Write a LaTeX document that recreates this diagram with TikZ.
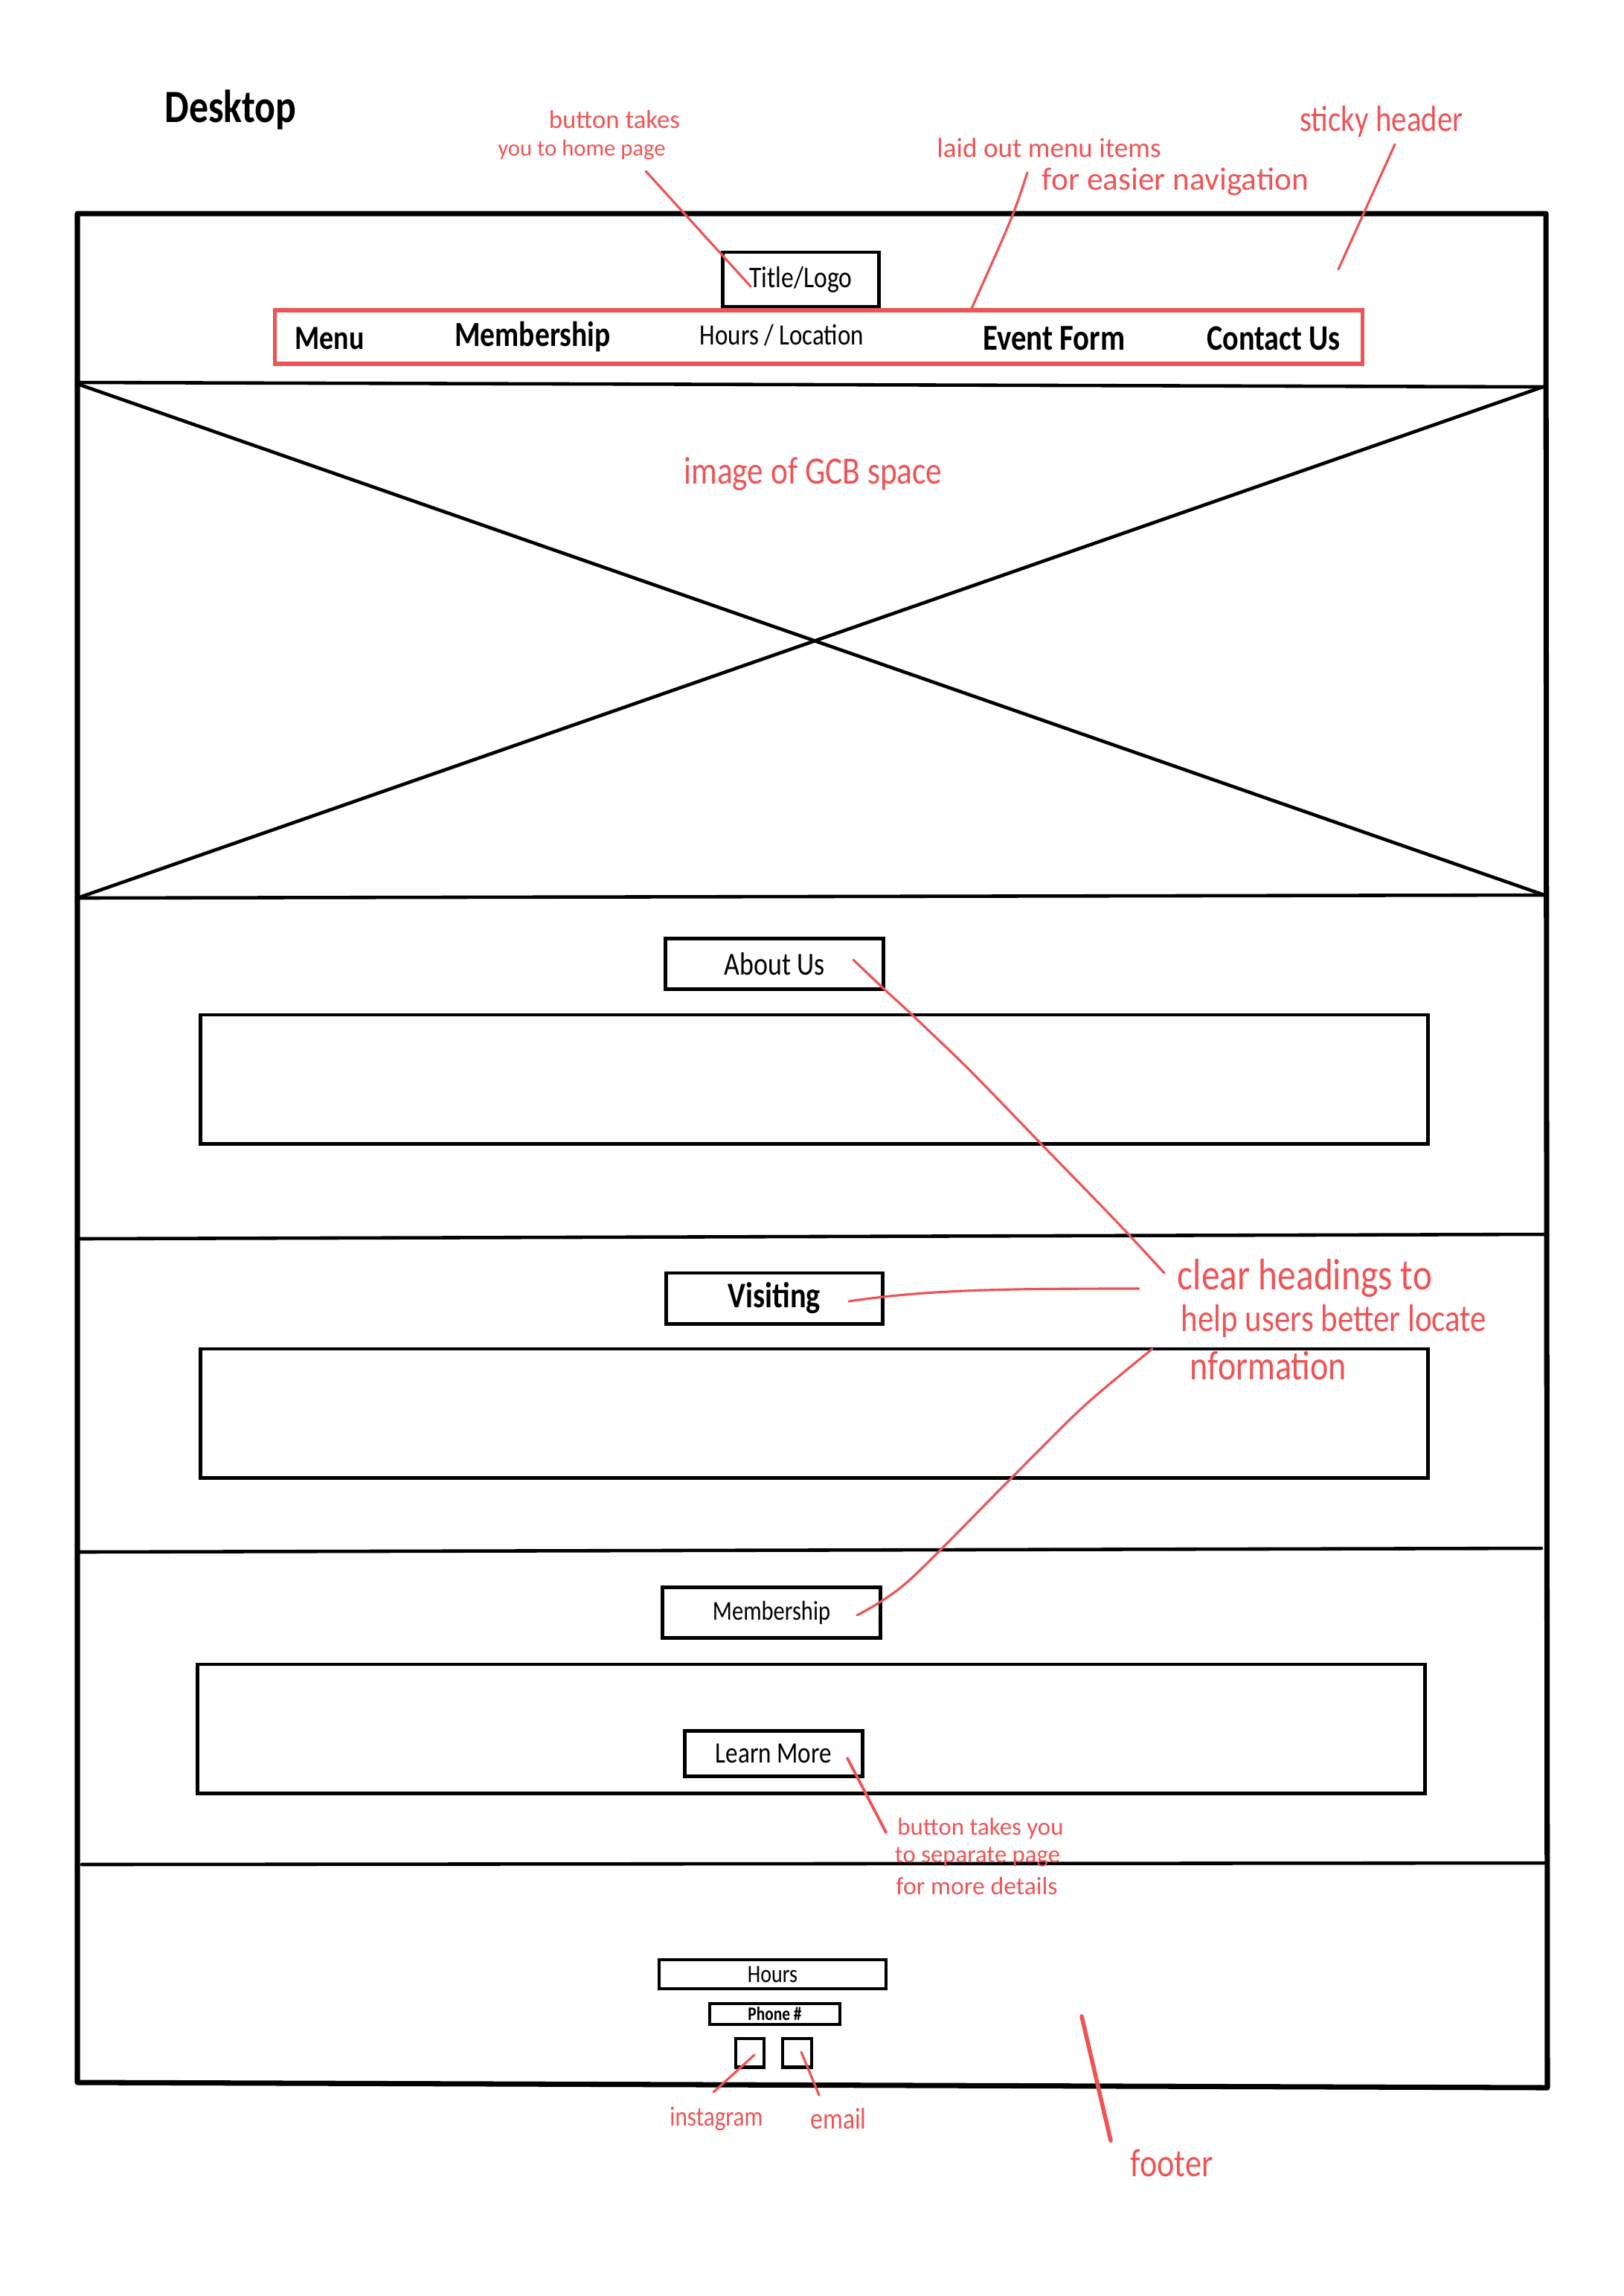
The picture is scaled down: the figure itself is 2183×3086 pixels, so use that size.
\documentclass[tikz,border=0pt]{standalone}
\usepackage{fontspec}
\setmainfont{Carlito}
\usepackage{graphicx}
\definecolor{pen}{RGB}{238,84,86}
\tikzset{
  frameline/.style={line width=2pt, black, line join=round},
  divline/.style={line width=1.3pt, black, line cap=round},
  wbox/.style={draw=black, line width=1.4pt, inner sep=0pt, fill=white},
  navbox/.style={draw=pen, line width=1.5pt, inner sep=0pt},
  note/.style={text=pen, inner sep=0pt},
  ink/.style={text=black, inner sep=0pt},
  lead/.style={pen, line width=0.9pt, line cap=round, line join=round},
}
% hand-lettered text: scaled to a given width, slightly tall
\newcommand\hw[2]{\resizebox{#1}{!}{\scalebox{1}[1.2]{#2}}}
% same, without the extra height (for stacked note lines)
\newcommand\hwf[2]{\resizebox{#1}{!}{#2}}

\begin{document}
\begin{tikzpicture}[x=0.01cm,y=-0.01cm]
\useasboundingbox (0,0) rectangle (2183,3086);

% page title
\node[ink] (desktop) at (310,148) {\hw{1.77cm}{\bfseries Desktop}};

% outer frame and section dividers
\draw[frameline] (104,287) -- (2078,287) -- (2080,2806) -- (104,2799) -- cycle;
\draw[divline] (104,514) -- (2074,520);
\draw[divline] (104,1207) -- (2078,1203);
\draw[divline] (104,516) -- (2076,1203);
\draw[divline] (2074,520) -- (104,1207);
\draw[divline] (104,1665) -- (2076,1659);
\draw[divline] (104,2086) -- (2072,2081);
\draw[divline] (110,2506) -- (2078,2504);

% header
\node[wbox, minimum width=2.09cm, minimum height=0.73cm] (titlebox) at (1076.5,375.5)
  {\hw{1.38cm}{Title/Logo}};
\node[navbox, minimum width=14.61cm, minimum height=0.72cm] (navbox) at (1100.5,453) {};
\node[ink] (navmenu) at (443,455) {\hw{0.93cm}{\bfseries Menu}};
\node[ink] (navmember) at (716,453) {\hw{2.09cm}{\bfseries Membership}};
\node[ink] (navhours) at (1051,451) {\hw{2.20cm}{Hours / Location}};
\node[ink] (navevent) at (1417,455) {\hw{1.91cm}{\bfseries Event Form}};
\node[ink] (navcontact) at (1712,455) {\hw{1.79cm}{\bfseries Contact Us}};

% header notes
\node[note] (homeA) at (826,161) {\hwf{1.76cm}{button takes}};
\node[note] (homeB) at (782,201) {\hwf{2.25cm}{you to home page}};
\node[note] (navA) at (1410,199) {\hwf{3.01cm}{laid out menu items}};
\node[note] (navB) at (1580,244) {\hwf{3.58cm}{for easier navigation}};
\node[note] (sticky) at (1857,163) {\hw{2.19cm}{sticky header}};
\node[note] (imagenote) at (1093,637) {\hw{3.47cm}{image of GCB space}};

% about us
\node[wbox, minimum width=2.93cm, minimum height=0.68cm] (aboutbox) at (1041,1295.5)
  {\hw{1.35cm}{About Us}};
\node[wbox, minimum width=16.49cm, minimum height=1.73cm] (aboutbody) at (1094.5,1450.5) {};

% visiting
\node[wbox, minimum width=2.91cm, minimum height=0.68cm] (visitbox) at (1041,1745)
  {\hw{1.24cm}{\bfseries Visiting}};
\node[wbox, minimum width=16.49cm, minimum height=1.73cm] (visitbody) at (1094.5,1899.5) {};

% membership
\node[wbox, minimum width=2.93cm, minimum height=0.68cm] (memberbox) at (1037,2167.5)
  {\hw{1.58cm}{Membership}};
\node[wbox, minimum width=16.49cm, minimum height=1.73cm] (memberbody) at (1090.5,2323.5) {};
\node[wbox, minimum width=2.38cm, minimum height=0.61cm] (learnbox) at (1040,2357)
  {\hw{1.56cm}{Learn More}};

% footer
\node[wbox, line width=1.2pt, minimum width=3.05cm, minimum height=0.39cm] (hoursbox) at (1038.5,2653.5)
  {\hw{0.67cm}{Hours}};
\node[wbox, line width=1.2pt, minimum width=1.75cm, minimum height=0.28cm] (phonebox) at (1041.5,2707)
  {\hw{0.72cm}{\bfseries Phone \#}};
\node[wbox, line width=1.4pt, minimum width=0.38cm, minimum height=0.38cm] (instabox) at (1008,2759) {};
\node[wbox, line width=1.4pt, minimum width=0.39cm, minimum height=0.38cm] (mailbox) at (1071.5,2759) {};

% section notes
\node[note] (headA) at (1754,1718) {\hw{3.42cm}{clear headings to}};
\node[note] (headB) at (1793,1776) {\hw{4.10cm}{help users better locate}};
\node[note] (headC) at (1705,1836) {\hw{2.10cm}{nformation}};
\node[note] (learnA) at (1318,2458) {\hwf{2.23cm}{button takes you}};
\node[note] (learnB) at (1314,2496) {\hwf{2.22cm}{to separate page}};
\node[note] (learnC) at (1313,2535) {\hwf{2.17cm}{for more details}};
\node[note] (instanote) at (963,2848) {\hw{1.25cm}{instagram}};
\node[note] (mailnote) at (1127,2848) {\hw{0.75cm}{email}};
\node[note] (footnote) at (1575,2907) {\hw{1.11cm}{footer}};

% leader end points
\coordinate (homeS) at (868,230);
\coordinate (homeE) at (1009,385);
\coordinate (navS) at (1381,232);
\coordinate (navE) at (1305,417);
\coordinate (stickyS) at (1875,194);
\coordinate (stickyE) at (1799,362);
\coordinate (aboutE) at (1147,1290);
\coordinate (headS) at (1565,1711);
\coordinate (visitE) at (1141,1749);
\coordinate (headV) at (1531,1732);
\coordinate (memberE) at (1152,2171);
\coordinate (headM) at (1549,1813);
\coordinate (learnE) at (1139,2363);
\coordinate (learnS) at (1191,2463);
\coordinate (instaE) at (1014,2762);
\coordinate (instaS) at (959,2812);
\coordinate (mailE) at (1077,2758);
\coordinate (mailS) at (1101,2816);
\coordinate (footS) at (1493,2877);
\coordinate (footE) at (1454,2710);

% leaders
\draw[lead] (homeS) -- (homeE);
\draw[lead] (navS) .. controls (1362,290) .. (navE);
\draw[lead] (stickyS) -- (stickyE);
\draw[lead] plot[smooth, tension=0.5] coordinates
  {(aboutE) (1187,1328) (1225,1363) (1294,1429) (1347,1483) (1401,1539) (1500,1641) (headS)};
\draw[lead] (visitE) .. controls (1250,1733) and (1350,1732) .. (headV);
\draw[lead] plot[smooth, tension=0.5] coordinates
  {(memberE) (1220,2126) (1358,1988) (1457,1890) (headM)};
\draw[lead, line width=1.1pt] (learnE) -- (learnS);
\draw[lead] (instaE) -- (instaS);
\draw[lead] (mailE) -- (mailS);
\draw[lead, line width=1.6pt] (footE) -- (footS);
\end{tikzpicture}
\end{document}
